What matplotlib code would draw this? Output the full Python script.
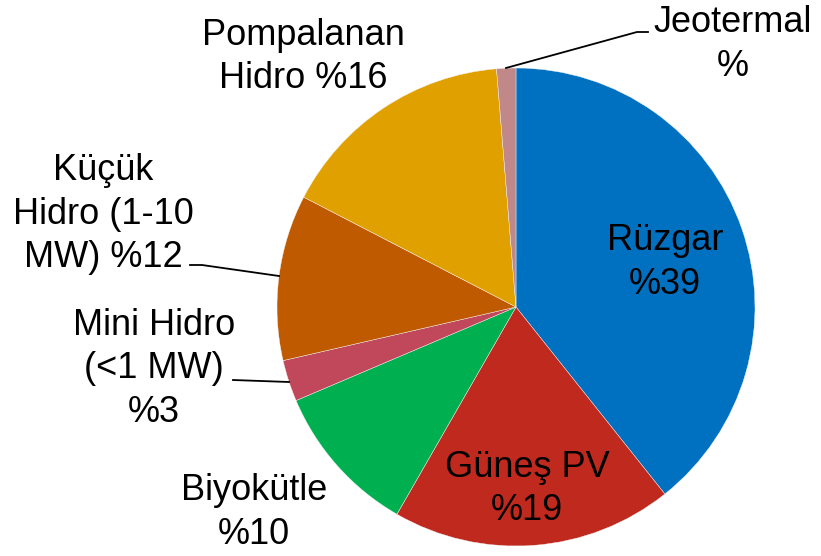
import numpy as np
import matplotlib
matplotlib.use("Agg")
import matplotlib.pyplot as plt

plt.rcParams['font.family'] = ['Liberation Sans', 'DejaVu Sans']

# data (clockwise from 12 o'clock)
names = ['Rüzgar', 'Güneş PV', 'Biyokütle', 'Mini Hidro', 'Küçük',
         'Pompalanan', 'Jeotermal']
shares = [39.3, 19.0, 10.3, 2.8, 11.2, 16.1, 1.3]
colors = ['#0070C0', '#C0291D', '#00B050', '#C0485A', '#C05A00', '#E0A000', '#C08888']
# label text as it is wrapped on the chart
label_lines = [
    ['Rüzgar', '%39'],
    ['Güneş PV', '%19'],
    ['Biyokütle', '%10'],
    ['Mini Hidro', '(<1 MW)', '%3'],
    ['Küçük', 'Hidro (1-10', 'MW) %12'],
    ['Pompalanan', 'Hidro %16'],
    ['Jeotermal', '%'],
]

W, H = 821, 556
fig = plt.figure(figsize=(W / 100, H / 100), dpi=100)
ax = fig.add_axes([0, 0, 1, 1])

cx, cy, r = 516, H - 307, 239
ax.pie(shares, colors=colors, startangle=90, counterclock=False,
       center=(cx, cy), radius=r, frame=True,
       wedgeprops=dict(edgecolor='#f4f4f4', linewidth=0.3))
ax.set_xlim(0, W)
ax.set_ylim(0, H)
ax.set_aspect('equal')
ax.axis('off')

# label anchor: x center, first baseline (image px)
pos = [(665, 250), (527, 477), (254, 500), (154, 335),
       (103, 180), (303, 45), (733, 32)]
step = 43.5
for (x, y0), lines in zip(pos, label_lines):
    for k, ln in enumerate(lines):
        ax.text(x, H - (y0 + k * step), ln, ha='center', va='baseline',
                fontsize=26, color='black')

# leader lines
leaders = [
    [(506, 68), (637, 32), (648, 32)],
    [(279, 276), (202, 265), (190, 265)],
    [(289, 382), (233, 380)],
]
for pts in leaders:
    xs = [p[0] for p in pts]
    ys = [H - p[1] for p in pts]
    ax.plot(xs, ys, color='black', linewidth=1.3)

fig.savefig('out.png', dpi=100)
